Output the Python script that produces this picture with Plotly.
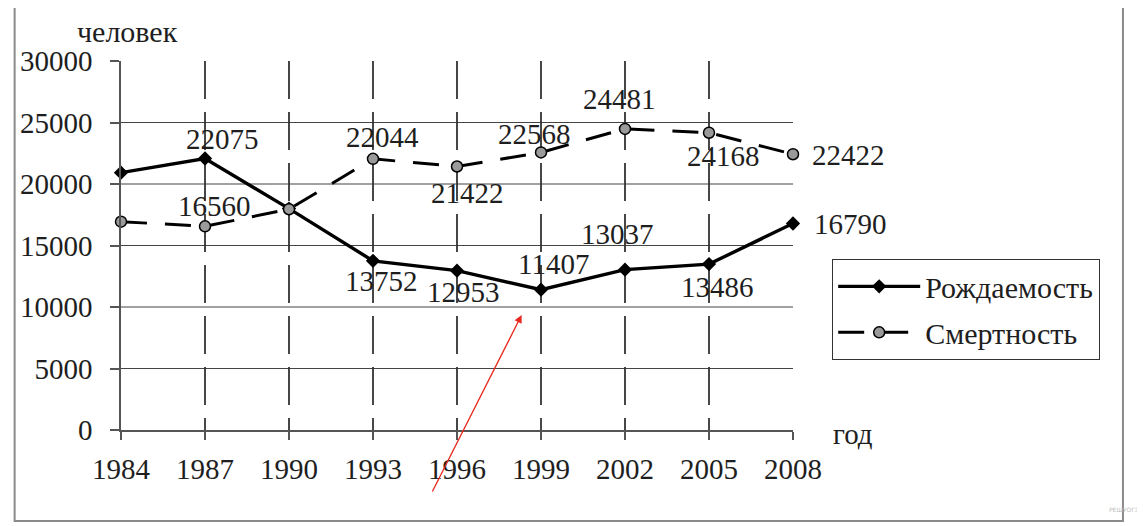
import plotly.graph_objects as go

# ---- data ----
years = [1984, 1987, 1990, 1993, 1996, 1999, 2002, 2005, 2008]
births = [20920, 22075, 18000, 13752, 12953, 11407, 13037, 13486, 16790]
deaths = [16935, 16560, 17950, 22044, 21422, 22568, 24481, 24168, 22422]
birth_labelled = [False, True, False, True, True, True, True, True, True]
death_labelled = [False, True, False, True, True, True, True, True, True]
y_ticks = [0, 5000, 10000, 15000, 20000, 25000, 30000]
y_ticktext = ["0", "5000", "10000", "15000", "20000", "25000", "30000"]
series_names = ["Рождаемость", "Смертность"]

# ---- label offsets (pixels, style only) ----
birth_off = [None, (17, -19), None, (8, 20), (6, 21), (12, -26), (-8, -36), (8, 23), (57, 1)]
death_off = [None, (9, -20), None, (9, -22), (10, 26), (-7, -18), (-6, -30), (14, 23), (55, 1)]

FONT = "Liberation Serif"
TXT = "#1e1e1e"
FS = 29

fig = go.Figure()
fig.add_trace(go.Scatter(
    x=years, y=births, name=series_names[0], mode="lines+markers",
    line=dict(color="black", width=3.4),
    marker=dict(symbol="diamond", size=11, color="black"),
    cliponaxis=False, legendgroup="b",
))
fig.add_trace(go.Scatter(
    x=years, y=deaths, name=series_names[1], mode="lines+markers",
    line=dict(color="black", width=3, dash="26px,18px"),
    marker=dict(symbol="circle", size=11, color="#9a9a9a", line=dict(color="black", width=1.5)),
    cliponaxis=False, legendgroup="d",
))

annotations = []
for vals, flags, offs in ((births, birth_labelled, birth_off), (deaths, death_labelled, death_off)):
    for x, v, f, o in zip(years, vals, flags, offs):
        if not f:
            continue
        annotations.append(dict(
            x=x, y=v, xref="x", yref="y", text=str(v), showarrow=False,
            xanchor="center", yanchor="middle",
            xshift=o[0], yshift=-o[1], font=dict(family=FONT, size=FS, color=TXT),
        ))

# axis titles
annotations.append(dict(x=0.009, y=1.0786, xref="paper", yref="paper", text="человек",
                        xanchor="center", yanchor="middle",
                        showarrow=False, font=dict(family=FONT, size=30, color=TXT)))
annotations.append(dict(x=1.0888, y=-0.011, xref="paper", yref="paper", text="год",
                        xanchor="center", yanchor="middle",
                        showarrow=False, font=dict(family=FONT, size=29, color=TXT)))
# red arrow overlay
annotations.append(dict(x=0.5962, y=0.3117, xref="paper", yref="paper", text="",
                        showarrow=True, ax=-90, ay=178, arrowcolor="#e8281e",
                        arrowwidth=1.3, arrowhead=2, arrowsize=1.2))
# watermark
annotations.append(dict(x=1.4926, y=-0.2168, xref="paper", yref="paper", text="РЕШУОГЭ",
                        xanchor="center", yanchor="middle",
                        showarrow=False, font=dict(family="DejaVu Sans", size=6, color="#bbbbbb")))

shapes = []
# horizontal grid lines (solid), skip 0 and top
for t in y_ticks[1:-1]:
    shapes.append(dict(type="line", xref="x", yref="y", x0=years[0], x1=years[-1], y0=t, y1=t,
                       line=dict(color="#444444", width=1.2), layer="below"))
# vertical grid lines (dashed), inner years only
for yr in years[1:-1]:
    shapes.append(dict(type="line", xref="x", yref="y", x0=yr, x1=yr, y0=y_ticks[-1], y1=y_ticks[0],
                       line=dict(color="#333333", width=1.8, dash="38px,13px"), layer="below"))
# outer frame
shapes.append(dict(type="rect", xref="paper", yref="paper", x0=-0.1583, x1=1.491, y0=-0.2466, y1=1.1463,
                   line=dict(color="#8a8a8a", width=2)))

fig.update_layout(
    width=1137, height=518,
    margin=dict(l=109, r=352, t=53, b=96),
    paper_bgcolor="white", plot_bgcolor="white",
    showlegend=True,
    legend=dict(
        x=1.058, y=0.463, xanchor="left", yanchor="top",
        font=dict(family=FONT, size=30, color=TXT),
        bordercolor="#333333", borderwidth=1.2, bgcolor="white",
        itemwidth=82, traceorder="grouped", tracegroupgap=4,
    ),
    annotations=annotations,
    shapes=shapes,
)
fig.update_xaxes(
    range=[years[0], years[-1]], tickvals=years, ticktext=[str(y) for y in years],
    showgrid=False, zeroline=False, showline=True, linecolor="#555555", linewidth=1.6,
    ticks="outside", ticklen=8, tickwidth=1.6, tickcolor="#555555",
    tickfont=dict(family=FONT, size=FS, color=TXT), ticklabelstandoff=4,
)
fig.update_yaxes(
    range=[y_ticks[0], y_ticks[-1]], tickvals=y_ticks, ticktext=y_ticktext,
    showgrid=False, zeroline=False, showline=True, linecolor="#555555", linewidth=1.6,
    ticks="outside", ticklen=9, tickwidth=1.6, tickcolor="#555555",
    tickfont=dict(family=FONT, size=FS, color=TXT), ticklabelstandoff=12,
)

fig.write_html("out.html")
